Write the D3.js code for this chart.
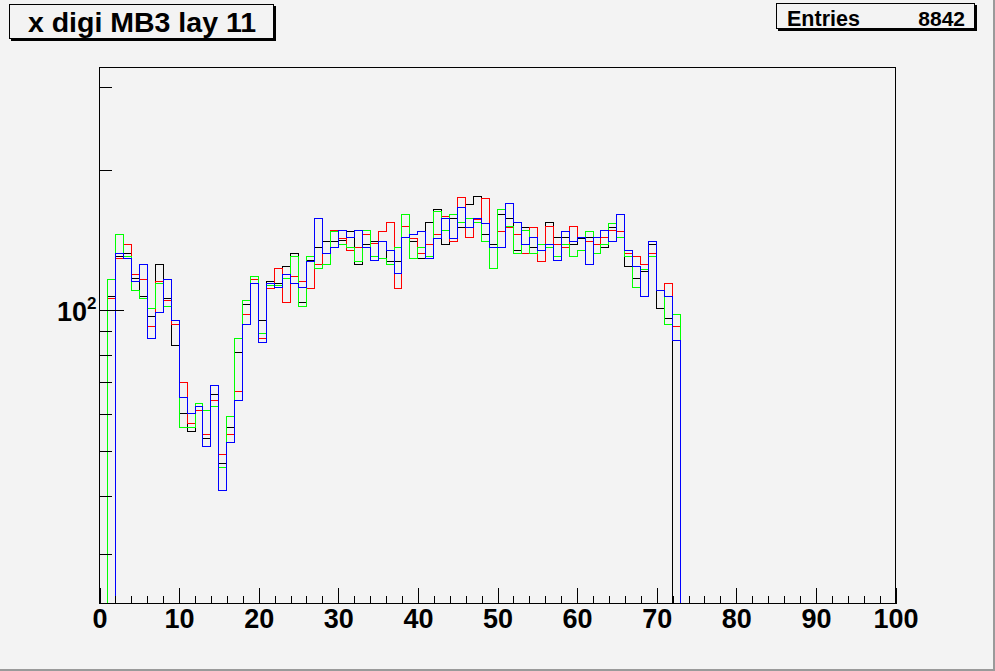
<!DOCTYPE html>
<html>
<head>
<meta charset="utf-8">
<script src="https://cdn.jsdelivr.net/npm/d3@7"></script>
<style>
  html, body { margin: 0; padding: 0; background: #f3f3f3; }
  svg { display: block; }
  text { font-family: "Liberation Sans", Arial, Helvetica, sans-serif; font-weight: bold; }
</style>
</head>
<body>
<svg id="chart" width="995" height="671"></svg>
<script>
// ---------------- data (bin contents, bins of width 1 from 0 to 100) ----------------
const title = "x digi MB3 lay 11";
const statsLabel = "Entries";
const statsValue = "8842";
const xRange = [0, 100];
const xMajorTicks = [0, 10, 20, 30, 40, 50, 60, 70, 80, 90, 100];
const yMajorTicks = [100];
const yMajorLabels = [["10", "2"]];
const yMinorTicks = [30, 40, 50, 60, 70, 80, 90, 200, 300];

const seriesBlack = [0,107,130,132,117,107,97,125,106,84,
  60,55,61,53,66,47,56,81,103,116,
  95,115,114,124,132,104,128,136,140,140,
  141,147,125,138,140,140,127,127,160,140,
  129,154,164,138,157,150,168,175,145,138,
  160,157,134,150,136,134,154,143,143,138,
  142,143,132,136,150,147,124,117,121,138,
  101,96,0,0,0,0,0,0,0,0,
  0,0,0,0,0,0,0,0,0,0,
  0,0,0,0,0,0,0,0,0,0];
const seriesRed = [0,106,129,138,119,116,92,115,105,93,
  70,57,61,54,64,49,54,67,98,116,
  87,111,123,104,118,115,111,125,132,148,
  142,134,136,145,139,147,154,111,151,142,
  132,138,145,159,140,174,143,156,173,136,
  147,150,145,132,150,127,151,138,136,151,
  143,140,138,143,148,147,132,130,125,132,
  110,114,92,0,0,0,0,0,0,0,
  0,0,0,0,0,0,0,0,0,0,
  0,0,0,0,0,0,0,0,0,0];
const seriesGreen = [0,116,145,130,110,106,101,114,102,95,
  56,56,63,61,62,46,59,87,105,118,
  89,113,113,117,130,102,130,123,125,147,
  138,136,127,148,130,129,125,136,160,129,
  136,130,163,148,160,154,157,154,140,123,
  164,151,132,148,132,138,136,130,138,130,
  134,147,132,138,153,143,130,112,122,130,
  110,93,98,0,0,0,0,0,0,0,
  0,0,0,0,0,0,0,0,0,0,
  0,0,0,0,0,0,0,0,0,0];
const seriesBlue = [0,0,132,129,115,125,87,99,116,95,
  65,60,62,51,69,41,52,64,93,114,
  85,114,112,119,114,112,127,157,132,136,
  148,143,148,136,128,140,134,120,143,145,
  147,129,142,157,142,166,150,157,153,136,
  136,169,154,138,143,134,138,128,147,140,
  143,125,143,148,140,160,134,124,107,140,
  110,107,86,0,0,0,0,0,0,0,
  0,0,0,0,0,0,0,0,0,0,
  0,0,0,0,0,0,0,0,0,0];
const seriesList = [seriesBlack, seriesRed, seriesGreen, seriesBlue];
const seriesColors = ["#000000", "#ff0000", "#00ff00", "#0000ff"];

// ---------------- layout ----------------
const W = 995, H = 671;
const fx0 = 99.5, fx1 = 895.5, fy0 = 67.5, fy1 = 603.5;
const bg = "#f3f3f3";

const svg = d3.select("#chart");
svg.append("rect").attr("x", 0).attr("y", 0).attr("width", W).attr("height", H).attr("fill", bg);
// canvas bevel (right / bottom)
svg.append("rect").attr("x", 993).attr("y", 0).attr("width", 2).attr("height", H).attr("fill", "#9a9a9a");
svg.append("rect").attr("x", 0).attr("y", 669).attr("width", W).attr("height", 2).attr("fill", "#9a9a9a");

const x = d3.scaleLinear().domain(xRange).range([fx0, fx1]);
const y = d3.scaleLog().domain([23.5, 331]).range([fy1, fy0]);

// clip
svg.append("clipPath").attr("id", "frameclip")
  .append("rect").attr("x", fx0).attr("y", fy0 - 1).attr("width", fx1 - fx0 + 1).attr("height", fy1 - fy0 + 2);

// histograms
const nb = seriesBlack.length;
const line = d3.line()
  .x(d => x(d.k))
  .y(d => d.v > 0 ? Math.max(fy0, Math.min(fy1, y(d.v))) : fy1)
  .curve(d3.curveStepAfter);

const gH = svg.append("g").attr("clip-path", "url(#frameclip)");
seriesList.forEach((vals, i) => {
  const pts = vals.map((v, k) => ({k: k, v: v}));
  pts.push({k: nb, v: vals[nb - 1]});
  gH.append("path")
    .attr("d", line(pts))
    .attr("fill", "none")
    .attr("stroke", seriesColors[i])
    .attr("stroke-width", 1)
    .attr("shape-rendering", "crispEdges");
});

// frame
svg.append("rect").attr("x", fx0).attr("y", fy0).attr("width", fx1 - fx0).attr("height", fy1 - fy0)
  .attr("fill", "none").attr("stroke", "#000").attr("stroke-width", 1).attr("shape-rendering", "crispEdges");

// x axis: major ticks with labels
const xMinor = d3.range(0, 101, 2).filter(v => v % 10 !== 0);
const gxMinor = svg.append("g").attr("transform", `translate(0,${fy1})`)
  .call(d3.axisBottom(x).tickValues(xMinor).tickSize(-8).tickFormat(""));
const gx = svg.append("g").attr("transform", `translate(0,${fy1})`)
  .call(d3.axisBottom(x).tickValues(xMajorTicks).tickSize(-16).tickFormat(d3.format("d")));
[gxMinor, gx].forEach(g => {
  g.select(".domain").remove();
  g.selectAll("line").attr("stroke", "#000").attr("shape-rendering", "crispEdges");
});
gx.selectAll("text")
  .attr("y", 24).attr("dy", 0)
  .attr("fill", "#000")
  .style("font-size", "27px")
  .style("font-weight", "bold")
  .style("font-family", "'Liberation Sans', Arial, sans-serif");

// y axis
const gyMinor = svg.append("g").attr("transform", `translate(${fx0},0)`)
  .call(d3.axisLeft(y).tickValues(yMinorTicks).tickSize(-12).tickFormat(""));
const gy = svg.append("g").attr("transform", `translate(${fx0},0)`)
  .call(d3.axisLeft(y).tickValues(yMajorTicks).tickSize(-24).tickFormat(""));
[gyMinor, gy].forEach(g => {
  g.select(".domain").remove();
  g.selectAll("line").attr("stroke", "#000").attr("shape-rendering", "crispEdges");
});
yMajorTicks.forEach((v, i) => {
  svg.append("text")
    .attr("x", 87).attr("y", y(v) + 11)
    .attr("text-anchor", "end")
    .attr("fill", "#000")
    .style("font-size", "27px")
    .text(yMajorLabels[i][0]);
  svg.append("text")
    .attr("x", 87).attr("y", y(v) - 1)
    .attr("fill", "#000")
    .style("font-size", "17px")
    .text(yMajorLabels[i][1]);
});

// boxes with shadow
function box(x0, y0, w, h) {
  svg.append("rect").attr("x", x0 + 2).attr("y", y0 + 2).attr("width", w).attr("height", h).attr("fill", "#000");
  svg.append("rect").attr("x", x0 + 0.5).attr("y", y0 + 0.5).attr("width", w - 1).attr("height", h - 1)
    .attr("fill", bg).attr("stroke", "#000").attr("stroke-width", 1);
}
box(9, 4, 265, 35);
svg.append("text").attr("x", 142).attr("y", 31.5).attr("text-anchor", "middle")
  .attr("fill", "#000").style("font-size", "28.5px").text(title);

// stats box
box(776, 3, 199, 26);
svg.append("text").attr("x", 787).attr("y", 25.5).attr("fill", "#000").style("font-size", "21.5px").text(statsLabel);
svg.append("text").attr("x", 965).attr("y", 25.5).attr("text-anchor", "end").attr("fill", "#000").style("font-size", "21px").text(statsValue);
</script>
</body>
</html>
